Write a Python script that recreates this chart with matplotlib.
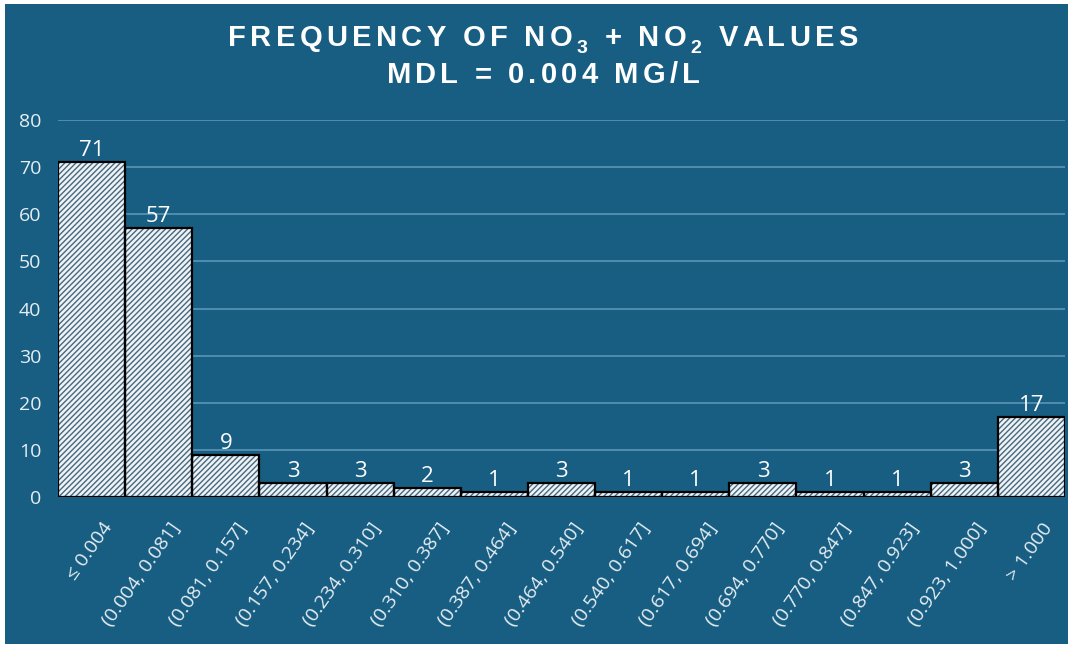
import numpy as np
import matplotlib.pyplot as plt
import matplotlib.transforms as mtransforms
from matplotlib.patches import Rectangle
from matplotlib.font_manager import FontProperties

# -----------------------------
# DATA
# -----------------------------

bins = ["≤ 0.004", "(0.004, 0.081]", "(0.081, 0.157]", "(0.157, 0.234]",
        "(0.234, 0.310]", "(0.310, 0.387]", "(0.387, 0.464]", "(0.464, 0.540]",
        "(0.540, 0.617]", "(0.617, 0.694]", "(0.694, 0.770]", "(0.770, 0.847]",
        "(0.847, 0.923]", "(0.923, 1.000]", "> 1.000"]
counts = [71, 57, 9, 3, 3, 2, 1, 3, 1, 1, 3, 1, 1, 3, 17]

title1 = [("FREQUENCY OF NO", False), ("3", True), (" + NO", False),
          ("2", True), (" VALUES", False)]
title2 = [("MDL = 0.004 MG/L", False)]

bg = "#185e82"
txt = "#e6eef3"
grid_c = "#5b95b5"

W, H = 1073, 648

plt.rcParams['font.family'] = ['Open Sans', 'DejaVu Sans']

fig = plt.figure(figsize=(W / 100, H / 100), dpi=100, facecolor="white")
fig.patches.append(Rectangle((5 / W, 4 / H), 1063 / W, 640 / H,
                             transform=fig.transFigure, facecolor=bg,
                             edgecolor="none", zorder=-5))

ax = fig.add_axes([58 / W, 151 / H, 1007 / W, 377 / H])
ax.set_facecolor("none")

x = np.arange(len(bins))

# hatched fill, then black outline on top
ax.bar(x, counts, width=1.0, color="#edf3f6", edgecolor="#48687e",
       hatch="//////", linewidth=0, zorder=2)
ax.bar(x, counts, width=1.0, fill=False, edgecolor="black",
       linewidth=1.6, zorder=3)

for xi, c in zip(x, counts):
    ax.text(xi, c + 0.2, str(c), ha="center", va="bottom",
            color="white", fontsize=16, zorder=4)

ax.set_xlim(-0.5, len(bins) - 0.5)
ax.set_ylim(0, 80)
ax.set_yticks(np.arange(0, 81, 10))
ax.yaxis.grid(True, color=grid_c, linewidth=1.2, zorder=1)
ax.set_axisbelow(True)

ax.set_xticks(x)
ax.set_xticklabels(bins, rotation=55, ha="right", rotation_mode="anchor",
                   color=txt, fontsize=14)
ax.tick_params(axis="y", colors=txt, labelsize=14, length=0, pad=12)
ax.tick_params(axis="x", length=0, pad=16)

# labels sit a bit right of the bar centre in the original
shift = mtransforms.ScaledTranslation(10 / 100, 0, fig.dpi_scale_trans)
for lab in ax.get_xticklabels():
    lab.set_transform(lab.get_transform() + shift)

for s in ax.spines.values():
    s.set_visible(False)

# -----------------------------
# TITLE with letter spacing (drawn char by char)
# -----------------------------

renderer = fig.canvas.get_renderer()
big = FontProperties(family="Liberation Sans", weight="bold", size=21)
small = FontProperties(family="Liberation Sans", weight="bold", size=14)


def char_w(c, prop):
    if c == " ":
        return prop.get_size_in_points() * 0.28 * 100 / 72
    w, _, _ = renderer.get_text_width_height_descent(c, prop, ismath=False)
    return w


def tracked_line(segs, y_px, target_w, x_center=543):
    chars = []
    for s, sub in segs:
        for c in s:
            chars.append((c, sub))
    widths = [char_w(c, small if sub else big) for c, sub in chars]
    track = (target_w - sum(widths)) / (len(chars) - 1)
    xp = x_center - target_w / 2
    for (c, sub), w in zip(chars, widths):
        if c != " ":
            yy = y_px + 7 if sub else y_px
            fig.text(xp / W, 1 - yy / H, c, ha="left", va="baseline",
                     color="white", fontproperties=small if sub else big)
        xp += w + track


tracked_line(title1, 46, 630)
tracked_line(title2, 83, 313)

fig.savefig("out.png", dpi=100, facecolor="white")
